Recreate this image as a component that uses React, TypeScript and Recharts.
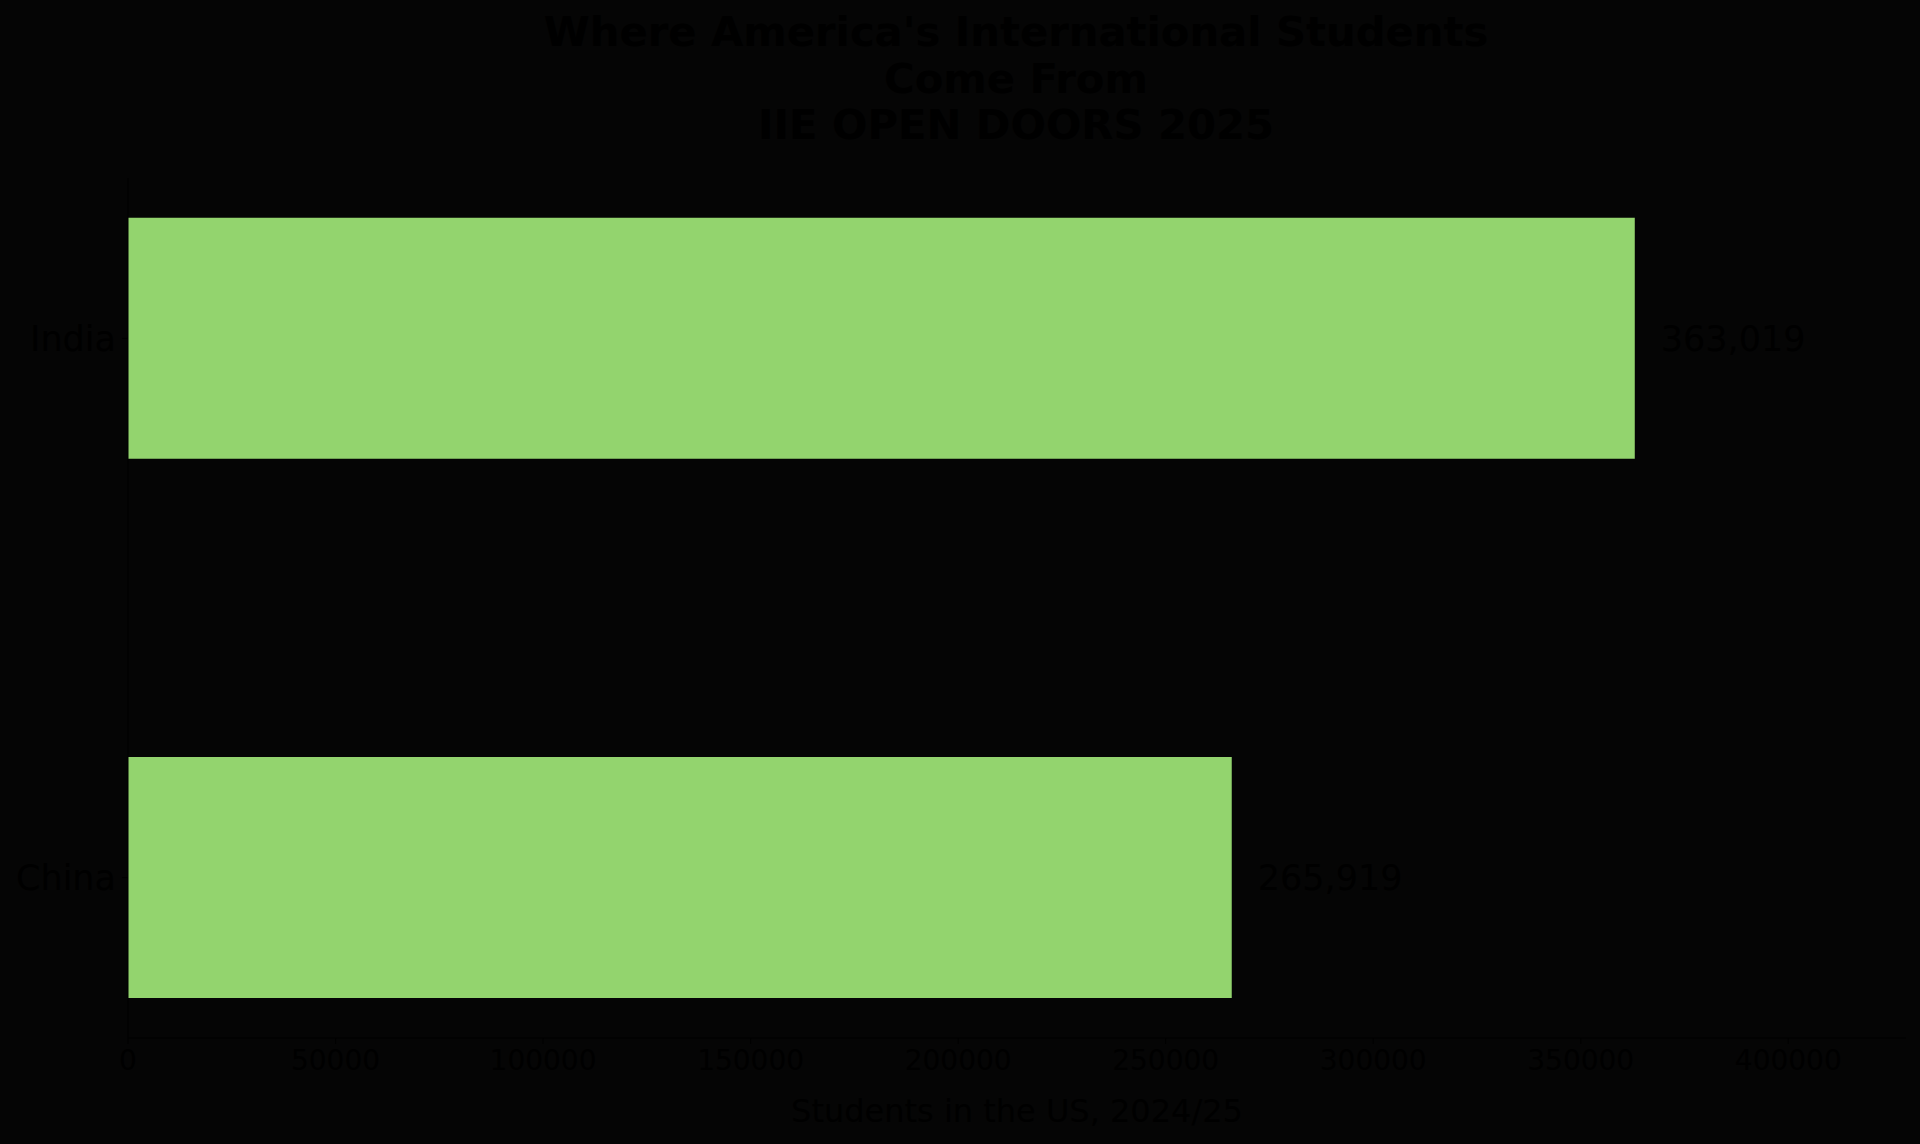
import { Bar, BarChart, LabelList, XAxis, YAxis } from 'recharts';

const countries = ['India', 'China'];
const positions = [0, 1];
const students = [363019, 265919];
const xTicks = [0, 50000, 100000, 150000, 200000, 250000, 300000, 350000, 400000];
const titleLines = ["Where America's International Students", 'Come From', 'IIE OPEN DOORS 2025'];

const data = countries.map((country, i) => ({ country, pos: positions[i], students: students[i] }));

const font = '"DejaVu Sans", sans-serif';
const ink = '#000000';

export default function App() {
  return (
    <div
      style={{
        position: 'fixed',
        top: 0,
        left: 0,
        width: 1920,
        height: 1144,
        background: '#050505',
        fontFamily: font,
        overflow: 'hidden',
      }}
    >
      <div
        style={{
          position: 'absolute',
          top: 9,
          left: 112,
          width: 1808,
          textAlign: 'center',
          fontSize: 41.7,
          lineHeight: '46.7px',
          fontWeight: 'bold',
          color: ink,
        }}
      >
        {titleLines.map((line) => (
          <div key={line}>{line}</div>
        ))}
      </div>
      <BarChart
        width={1920}
        height={1144}
        data={data}
        layout="vertical"
        margin={{ top: 178, right: 14, bottom: 0, left: 0 }}
        style={{ position: 'absolute', top: 0, left: 0 }}
      >
        <XAxis
          type="number"
          dataKey="students"
          domain={[0, 428362]}
          ticks={xTicks}
          interval={0}
          allowDataOverflow
          height={106}
          stroke={ink}
          tickSize={6}
          tickMargin={6}
          tick={{ fill: ink, fontSize: 28, fontFamily: font }}
          label={{
            value: 'Students in the US, 2024/25',
            position: 'insideBottom',
            offset: 22,
            fill: ink,
            fontSize: 32,
            fontFamily: font,
          }}
        />
        <YAxis
          type="number"
          dataKey="pos"
          domain={[-0.2975, 1.2975]}
          ticks={[0, 1]}
          interval={0}
          allowDataOverflow
          width={128}
          stroke={ink}
          tickSize={6}
          tickMargin={6}
          tickFormatter={(v: number) => countries[positions.indexOf(v)] ?? ''}
          tick={{ fill: ink, fontSize: 35, fontFamily: font }}
        />
        <Bar dataKey="students" fill="#93D46E" barSize={241} isAnimationActive={false}>
          <LabelList
            dataKey="students"
            position="right"
            offset={26}
            formatter={(v: number) => v.toLocaleString('en-US')}
            style={{ fill: ink, fontSize: 35, fontFamily: font }}
          />
        </Bar>
      </BarChart>
    </div>
  );
}
